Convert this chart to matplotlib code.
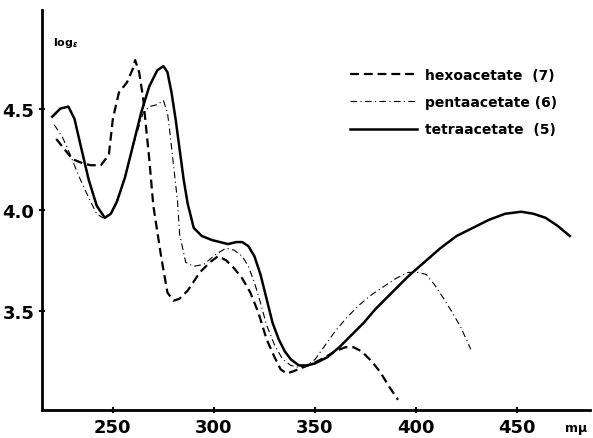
import numpy as np
import matplotlib
matplotlib.use("Agg")
import matplotlib.pyplot as plt

# wavelength (m-mu) / log eps
hexa_wl = [222, 226, 230, 235, 239, 244, 248, 250, 253, 257, 260, 261, 263, 265, 268, 270, 272,
           274, 277, 280, 283, 287, 293, 298, 302, 306, 310, 314, 318, 322, 326, 330, 333, 336,
           339, 344, 349, 355, 360, 365, 369, 373, 378, 382, 387, 391]
hexa_le = [4.35, 4.30, 4.25, 4.23, 4.22, 4.22, 4.27, 4.45, 4.58, 4.63, 4.70, 4.74, 4.68, 4.55, 4.25,
           4.02, 3.89, 3.76, 3.59, 3.55, 3.56, 3.60, 3.69, 3.74, 3.77, 3.75, 3.71, 3.66, 3.59, 3.49,
           3.36, 3.27, 3.21, 3.19, 3.20, 3.22, 3.24, 3.27, 3.30, 3.32, 3.32, 3.30, 3.25, 3.20, 3.12, 3.06]

penta_wl = [221, 225, 229, 233, 238, 242, 245, 249, 253, 257, 261, 265, 268, 272, 275, 277, 278,
            280, 282, 283, 286, 290, 295, 301, 306, 310, 314, 317, 320, 323, 326, 330, 334, 338,
            342, 346, 350, 355, 360, 366, 372, 378, 384, 390, 396, 401, 405, 409, 413, 418, 422, 427]
penta_le = [4.42, 4.36, 4.27, 4.17, 4.06, 3.98, 3.96, 3.98, 4.07, 4.20, 4.35, 4.48, 4.51, 4.52, 4.54,
            4.48, 4.40, 4.22, 4.04, 3.88, 3.74, 3.72, 3.73, 3.78, 3.81, 3.80, 3.77, 3.72, 3.64, 3.54,
            3.43, 3.33, 3.26, 3.23, 3.22, 3.23, 3.26, 3.33, 3.40, 3.47, 3.53, 3.58, 3.62, 3.66, 3.69,
            3.69, 3.68, 3.63, 3.57, 3.49, 3.42, 3.31]

tetra_wl = [220, 224, 228, 231, 234, 238, 242, 246, 249, 252, 256, 260, 264, 268, 272, 275, 277,
            279, 281, 283, 285, 287, 290, 294, 299, 303, 307, 311, 314, 317, 320, 323, 326, 329,
            332, 335, 338, 342, 346, 350, 356, 362, 368, 374, 380, 388, 396, 404, 412, 420, 428,
            436, 444, 452, 458, 464, 470, 476]
tetra_le = [4.46, 4.50, 4.51, 4.45, 4.32, 4.15, 4.02, 3.96, 3.98, 4.04, 4.16, 4.32, 4.48, 4.61,
            4.69, 4.71, 4.68, 4.58, 4.45, 4.30, 4.15, 4.03, 3.91, 3.87, 3.85, 3.84, 3.83, 3.84,
            3.84, 3.82, 3.77, 3.68, 3.56, 3.44, 3.36, 3.30, 3.26, 3.23, 3.23, 3.24, 3.27, 3.32,
            3.38, 3.44, 3.51, 3.59, 3.67, 3.74, 3.81, 3.87, 3.91, 3.95, 3.98, 3.99, 3.98, 3.96,
            3.92, 3.87]

labels = ["hexoacetate  (7)", "pentaacetate (6)", "tetraacetate  (5)"]
x_ticks = [250, 300, 350, 400, 450]
y_ticks = [3.5, 4.0, 4.5]
y_ticklabels = ["3.5", "4.0", "4.5"]

plt.rcParams['font.family'] = ['DejaVu Sans']
plt.rcParams['font.weight'] = 'bold'

fig = plt.figure(figsize=(5.93, 4.39), dpi=100)
ax = fig.add_axes([0.071, 0.064, 0.924, 0.912])

ax.plot(hexa_wl, hexa_le, color="black", lw=1.6, ls=(0, (4, 2.2)), label=labels[0])
ax.plot(penta_wl, penta_le, color="black", lw=0.8, ls=(0, (6, 3, 1, 3)), label=labels[1])
ax.plot(tetra_wl, tetra_le, color="black", lw=1.8, label=labels[2])

ax.set_xlim(215, 486)
ax.set_ylim(3.01, 4.99)

for s in ["top", "right"]:
    ax.spines[s].set_visible(False)
for s in ["left", "bottom"]:
    ax.spines[s].set_linewidth(2)

ax.set_xticks(x_ticks)
ax.set_yticks(y_ticks)
ax.set_yticklabels(y_ticklabels)
ax.tick_params(direction="inout", length=5, width=1.5, labelsize=13, pad=3)

ax.text(0.02, 0.92, r"log$_\epsilon$", transform=ax.transAxes, fontsize=8, fontweight="bold",
        va="center")
ax.text(0.975, -0.045, "mμ", transform=ax.transAxes, fontsize=9, ha="center", va="center")

ax.legend(loc="upper left", bbox_to_anchor=(0.54, 0.885), frameon=False, fontsize=10,
          handlelength=4.8, handletextpad=0.6, labelspacing=0.95)

fig.savefig("out.png", dpi=100)
